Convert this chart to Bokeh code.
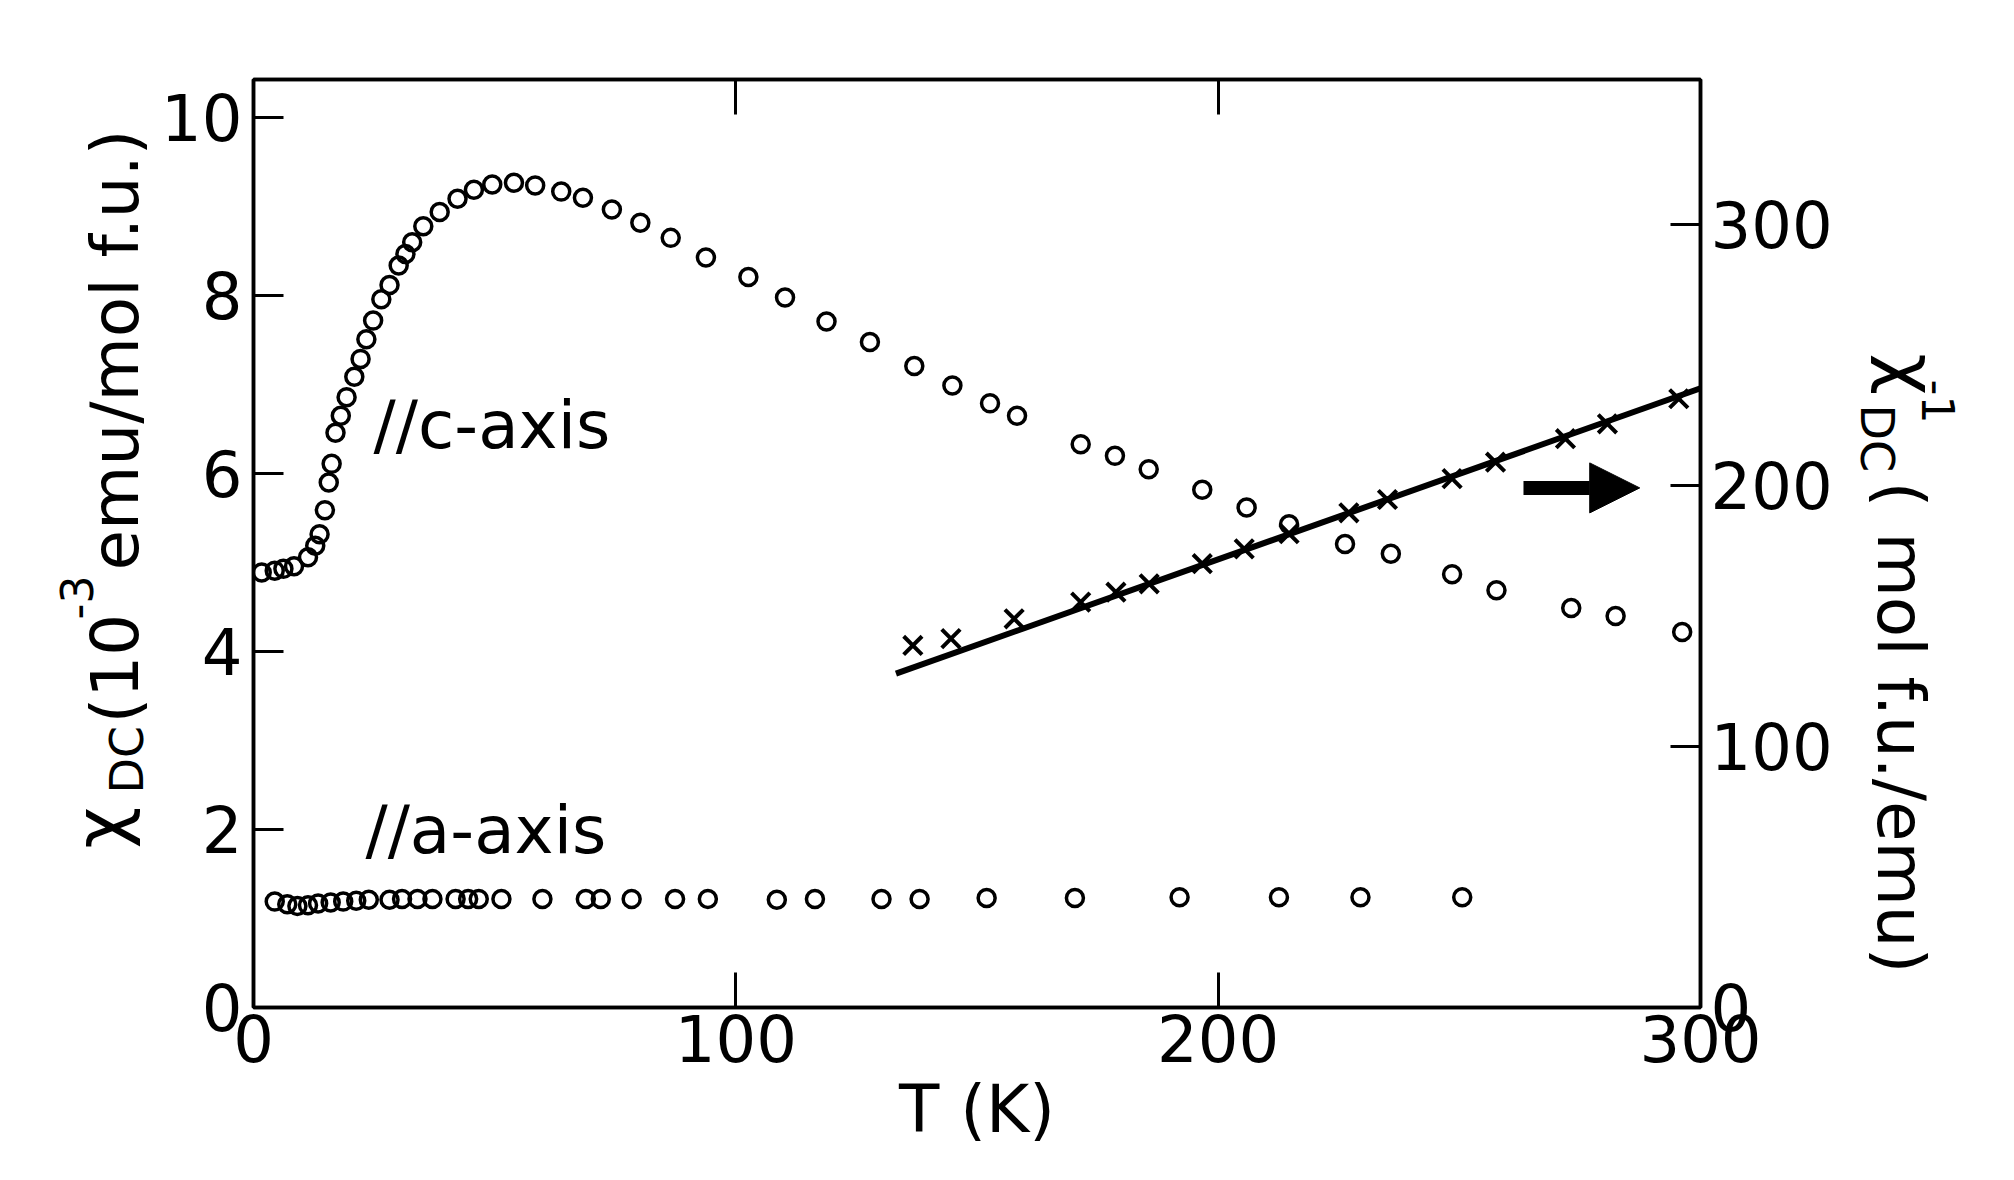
import math
from bokeh.plotting import figure
from bokeh.layouts import row
from bokeh.models import (Range1d, LinearAxis, FixedTicker, Label, Arrow, NormalHead)
from bokeh.embed import file_html
from bokeh.resources import INLINE

# ---------------- data ----------------
# chi_DC parallel to c-axis (10^-3 emu/mol f.u.)
c_T = [1.7, 4.4, 6.2, 8.4, 11.3, 12.8, 13.7, 14.8, 15.6, 16.2, 17.0, 18.1, 19.3,
       20.9, 22.2, 23.4, 24.8, 26.5, 28.2, 30.1, 31.5, 32.9, 35.2, 38.6, 42.3,
       45.7, 49.5, 54.0, 58.4, 63.8, 68.3, 74.3, 80.2, 86.5, 93.8, 102.6, 110.2,
       118.8, 127.8, 137.0, 144.9, 152.7, 158.3, 171.5, 178.6, 185.6, 196.7,
       205.9, 214.7, 226.3, 235.8, 248.5, 257.7, 273.2, 282.4, 296.2]
c_chi = [4.89, 4.91, 4.93, 4.96, 5.06, 5.19, 5.32, 5.59, 5.90, 6.11, 6.46, 6.65,
         6.86, 7.09, 7.29, 7.51, 7.72, 7.96, 8.12, 8.34, 8.47, 8.60, 8.78, 8.94,
         9.09, 9.19, 9.25, 9.27, 9.24, 9.17, 9.10, 8.97, 8.82, 8.65, 8.43, 8.21,
         7.98, 7.71, 7.48, 7.21, 6.99, 6.79, 6.65, 6.33, 6.20, 6.05, 5.82, 5.62,
         5.43, 5.21, 5.10, 4.87, 4.69, 4.49, 4.40, 4.22]

# chi_DC parallel to a-axis
a_T = [4.4, 7.0, 9.1, 11.3, 13.4, 16.0, 18.6, 21.3, 23.9, 28.2, 30.8, 34.0, 37.1,
       41.9, 44.5, 46.7, 51.4, 59.9, 68.9, 72.0, 78.4, 87.4, 94.2, 108.5, 116.4,
       130.2, 138.1, 152.0, 170.3, 192.0, 212.6, 229.5, 250.6]
a_chi = [1.19, 1.16, 1.14, 1.15, 1.17, 1.18, 1.19, 1.20, 1.21, 1.21, 1.22, 1.22,
         1.22, 1.22, 1.22, 1.22, 1.22, 1.22, 1.22, 1.22, 1.22, 1.22, 1.22, 1.21,
         1.22, 1.22, 1.22, 1.23, 1.23, 1.24, 1.24, 1.24, 1.24]

# inverse susceptibility (mol f.u./emu), c-axis
inv_T = [136.7, 144.6, 157.7, 171.5, 178.8, 185.7, 196.7, 205.4, 214.7, 227.1,
         235.1, 248.5, 257.5, 272.0, 280.7, 295.5]
inv_val = [138.7, 141.3, 148.9, 155.3, 159.1, 162.3, 170.0, 175.7, 181.5, 189.5,
           194.6, 202.6, 208.9, 217.9, 223.6, 233.2]

# Curie-Weiss fit line (end points)
fit_T = [133.2, 300.0]
fit_inv = [127.9, 237.2]

x_ticks = [0, 100, 200, 300]
y_ticks = [0, 2, 4, 6, 8, 10]
y2_ticks = [0, 100, 200, 300]

FONT = "DejaVu Sans"
TICK_FS = "64px"
FS = "66px"
H = 1176
WL = 158
WR = 140
WM = 1845 - WL
FRAME_TOP = 79
FRAME_H = 928

# ---------------- main figure ----------------
p = figure(width=WM, height=H, output_backend="svg", toolbar_location=None,
           x_range=Range1d(0, 300), y_range=Range1d(0, 10.43),
           min_border_left=252 - WL, min_border_right=145,
           min_border_top=FRAME_TOP, min_border_bottom=H - FRAME_TOP - FRAME_H)
p.background_fill_color = "white"
p.border_fill_color = "white"
p.grid.visible = False
p.outline_line_color = "black"
p.outline_line_width = 3.5
p.extra_y_ranges = {"inv": Range1d(0, 355.5)}


def style_axis(ax, ticks, tick_len, standoff, show_labels=True):
    ax.ticker = FixedTicker(ticks=ticks)
    ax.axis_line_width = 3.5
    ax.axis_line_color = "black"
    ax.major_tick_line_width = 3
    ax.major_tick_line_color = "black"
    ax.major_tick_in = tick_len
    ax.major_tick_out = 0
    ax.minor_tick_line_color = None
    ax.major_label_standoff = standoff
    ax.major_label_text_font = FONT
    ax.major_label_text_font_size = TICK_FS
    ax.major_label_text_color = "black" if show_labels else None


style_axis(p.xaxis[0], x_ticks, 35, 7)
style_axis(p.yaxis[0], y_ticks, 30, 11)

xa = p.xaxis[0]
xa.axis_label = "T (K)"
xa.axis_label_text_font = FONT
xa.axis_label_text_font_size = FS
xa.axis_label_text_font_style = "normal"
xa.axis_label_text_color = "black"
xa.axis_label_standoff = 6

right_ax = LinearAxis(y_range_name="inv")
style_axis(right_ax, y2_ticks, 30, 10)
p.add_layout(right_ax, "right")

top_ax = LinearAxis()
style_axis(top_ax, [100, 200], 35, 0, show_labels=False)
p.add_layout(top_ax, "above")

# ---------------- marks ----------------
p.scatter(c_T, c_chi, marker="circle", size=17, fill_color=None,
          line_color="black", line_width=3.5)
p.scatter(a_T, a_chi, marker="circle", size=17, fill_color=None,
          line_color="black", line_width=3.5)
p.line(fit_T, fit_inv, y_range_name="inv", line_color="black", line_width=6)
p.scatter(inv_T, inv_val, y_range_name="inv", marker="x", size=26,
          line_color="black", line_width=4)

p.add_layout(Arrow(end=NormalHead(size=50, fill_color="black", line_color="black"),
                   x_start=263.3, y_start=5.84, x_end=287.4, y_end=5.84,
                   line_color="black", line_width=14))

for txt, tx, ty in [("//c-axis", 24.9, 6.54), ("//a-axis", 23.2, 1.99)]:
    p.add_layout(Label(x=tx, y=ty, text=txt, text_font=FONT, text_font_size=FS,
                       text_color="black", text_align="left",
                       text_baseline="middle"))


# ---------------- side panels holding the y-axis titles ----------------
# In a row, Bokeh aligns the side panels' frames with the main frame, so their
# y range covers the same 928 px band (value = distance above the frame bottom).
def side_fig(w):
    f = figure(width=w, height=H, output_backend="svg", toolbar_location=None,
               x_range=Range1d(0, w), y_range=Range1d(0, FRAME_H),
               x_axis_type=None, y_axis_type=None, min_border=0)
    f.outline_line_color = None
    f.background_fill_color = "white"
    f.border_fill_color = "white"
    f.grid.visible = False
    return f


def put(f, txt, x, y, size, angle):
    f.add_layout(Label(x=x, y=y, text=txt, angle=angle, text_font=FONT,
                       text_font_size=size, text_color="black",
                       text_align="left", text_baseline="middle"))


up = math.pi / 2
down = -math.pi / 2
BOT = FRAME_TOP + FRAME_H  # page y of the frame bottom

left = side_fig(WL)
put(left, "χ", 99, BOT - 848, "72px", up)
put(left, "DC", 126, BOT - 793, "46px", up)
put(left, "(10", 115, BOT - 723, FS, up)
put(left, "-3", 76, BOT - 619, "44px", up)
put(left, "emu/mol f.u.)", 115, BOT - 570, FS, up)

right = side_fig(WR)
put(right, "χ", 65, BOT - 353, "72px", down)
put(right, "-1", 93, BOT - 379, "44px", down)
put(right, "DC", 31, BOT - 404, "46px", down)
put(right, "(", 55, BOT - 481, FS, down)
put(right, "mol f.u./emu)", 55, BOT - 532, FS, down)

layout = row(left, p, right, spacing=0)

open("out.html", "w").write(file_html(layout, INLINE))
